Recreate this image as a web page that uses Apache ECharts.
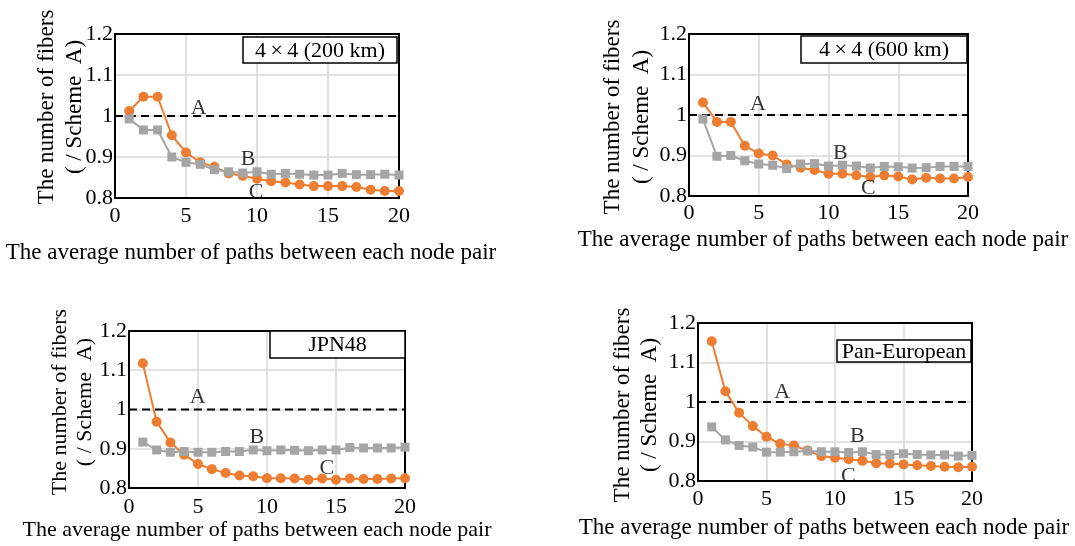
<!DOCTYPE html>
<html>
<head>
<meta charset="utf-8">
<script src="https://cdn.jsdelivr.net/npm/echarts@6/dist/echarts.min.js"></script>
<style>
html,body{margin:0;padding:0;background:#fff;}
#chart{width:1075px;height:546px;}
</style>
</head>
<body>
<div id="chart"></div>
<script>
// ---- data ----
const pathCounts = [1,2,3,4,5,6,7,8,9,10,11,12,13,14,15,16,17,18,19,20];
const xTicks = [0,5,10,15,20];
const yTicks = [0.8,0.9,1.0,1.1,1.2];
const panelTitles = ['4\u2009\u00d7\u20094 (200 km)', '4\u2009\u00d7\u20094 (600 km)', 'JPN48', 'Pan-European'];
const schemeA = [1, 1];
const schemeAx = [0, 20];

const c200 = [1.012,1.047,1.047,0.953,0.911,0.887,0.876,0.860,0.854,0.847,0.841,0.838,0.833,0.829,0.829,0.829,0.827,0.820,0.817,0.817];
const b200 = [0.993,0.966,0.966,0.900,0.887,0.882,0.869,0.864,0.861,0.864,0.858,0.860,0.858,0.856,0.856,0.860,0.857,0.857,0.858,0.856];
const c600 = [1.031,0.983,0.983,0.924,0.905,0.900,0.878,0.870,0.864,0.855,0.855,0.851,0.847,0.851,0.848,0.841,0.845,0.843,0.843,0.847];
const b600 = [0.990,0.898,0.900,0.887,0.879,0.876,0.868,0.879,0.880,0.874,0.876,0.874,0.869,0.873,0.872,0.869,0.870,0.873,0.873,0.873];
const cJPN = [1.118,0.969,0.916,0.885,0.861,0.848,0.838,0.832,0.830,0.825,0.825,0.824,0.821,0.824,0.821,0.824,0.823,0.823,0.824,0.825];
const bJPN = [0.917,0.897,0.891,0.893,0.891,0.891,0.893,0.893,0.897,0.895,0.897,0.896,0.895,0.897,0.897,0.903,0.902,0.902,0.902,0.904];
const cPan = [1.154,1.027,0.973,0.939,0.912,0.894,0.890,0.877,0.863,0.859,0.855,0.851,0.845,0.844,0.842,0.840,0.838,0.836,0.835,0.836];
const bPan = [0.937,0.904,0.890,0.886,0.873,0.873,0.874,0.876,0.874,0.874,0.872,0.874,0.867,0.867,0.869,0.867,0.866,0.866,0.863,0.865];

const seriesC = [c200, c600, cJPN, cPan];
const seriesB = [b200, b600, bJPN, bPan];

// annotation anchors (data units): [x, y] for A, B, C
const labelNames = ['A','B','C'];
const labelA = [[5.9,1.019],[4.95,1.027],[4.98,1.032],[6.15,1.024]];
const labelB = [[9.37,0.894],[10.84,0.906],[9.26,0.930],[11.63,0.913]];
const labelC = [[9.93,0.813],[12.85,0.819],[14.33,0.851],[10.97,0.812]];

const xTitle = 'The average number of paths between each node pair';
const yTitle = 'The number of fibers\n( / Scheme  A)';

// ---- layout ----
const FONT = "'Liberation Serif','Times New Roman',serif";
const grids = [
  {left:115, top:34, width:284, height:164},
  {left:689, top:34, width:279, height:162},
  {left:129, top:331, width:276, height:157},
  {left:698, top:323, width:274, height:158}
];
const tickMarginX = [7, 6, 8, 7];
const titleSize = [23, 23, 22, 23];
const boxes = [
  {x:243, y:37, w:154, h:26},
  {x:801, y:36, w:166, h:27},
  {x:270, y:331, w:135, h:27},
  {x:837, y:340, w:134, h:22}
];
const xTitlePos = [[251,253],[823,240],[257,530],[824,528]];
const yTitlePos = [[61,107,28],[627,117,29],[73,402,25],[636,405,27]];

const ORANGE = '#ED7D31', GRAY = '#A5A5A5';

const option = {
  animation:false,
  backgroundColor:'#fff',
  grid: grids.map(g => ({left:g.left, top:g.top, width:g.width, height:g.height, show:true, borderColor:'#000', borderWidth:2, backgroundColor:'transparent'})),
  xAxis: grids.map((g,i) => ({
    type:'value', gridIndex:i, min:xTicks[0], max:xTicks[xTicks.length-1], interval:5,
    axisLine:{show:true, lineStyle:{color:'#000', width:2}}, axisTick:{show:false},
    axisLabel:{fontFamily:FONT, fontSize:22, color:'#000', margin:tickMarginX[i]},
    splitLine:{show:true, showMinLine:false, showMaxLine:false, lineStyle:{color:'#d9d9d9', width:1.5}}
  })),
  yAxis: grids.map((g,i) => ({
    type:'value', gridIndex:i, min:yTicks[0], max:yTicks[yTicks.length-1], interval:0.1,
    axisLine:{show:true, lineStyle:{color:'#000', width:2}}, axisTick:{show:false},
    axisLabel:{fontFamily:FONT, fontSize:22, color:'#000', margin:2,
      formatter: v => String(+v.toFixed(1))},
    splitLine:{show:true, showMinLine:false, showMaxLine:false, lineStyle:{color:'#d9d9d9', width:1.5}}
  })),
  series: [],
  graphic: []
};

grids.forEach((g,i) => {
  // frame on top/right drawn on top of split lines
  option.graphic.push({
    type:'rect', shape:{x:g.left, y:g.top, width:g.width, height:g.height}, z:2, silent:true,
    style:{fill:null, stroke:'#000', lineWidth:2}
  });
  option.series.push({
    name:'A', type:'line', xAxisIndex:i, yAxisIndex:i,
    data: schemeAx.map((x,k) => [x, schemeA[k]]),
    symbol:'none', lineStyle:{color:'#000', width:2, type:[8,5]}, z:3, silent:true
  });
  option.series.push({
    name:'C', type:'line', xAxisIndex:i, yAxisIndex:i,
    data: pathCounts.map((x,k) => [x, seriesC[i][k]]),
    symbol:'circle', symbolSize:10, showSymbol:true,
    lineStyle:{color:ORANGE, width:2}, itemStyle:{color:ORANGE}, z:4
  });
  option.series.push({
    name:'B', type:'line', xAxisIndex:i, yAxisIndex:i,
    data: pathCounts.map((x,k) => [x, seriesB[i][k]]),
    symbol:'rect', symbolSize:9, showSymbol:true,
    lineStyle:{color:GRAY, width:2}, itemStyle:{color:GRAY}, z:5
  });
  option.series.push({
    name:'labels', type:'scatter', xAxisIndex:i, yAxisIndex:i,
    data: [labelA[i], labelB[i], labelC[i]].map((p,k) => ({value:p, name:labelNames[k]})),
    symbolSize:0, z:6, silent:true,
    label:{show:true, position:'inside', formatter:'{b}', fontFamily:FONT, fontSize:22, color:'#000'}
  });
  const b = boxes[i];
  option.graphic.push({
    type:'rect', shape:{x:b.x, y:b.y, width:b.w, height:b.h}, z:100,
    style:{fill:'#fff', stroke:'#000', lineWidth:1.5}
  });
  option.graphic.push({
    type:'text', x:b.x + b.w/2, y:b.y + b.h/2 + 1, z:101,
    style:{text:panelTitles[i], font:'22px ' + FONT, fill:'#000', textAlign:'center', textVerticalAlign:'middle'}
  });
  option.graphic.push({
    type:'text', x:xTitlePos[i][0], y:xTitlePos[i][1], z:101,
    style:{text:xTitle, font:titleSize[i] + 'px ' + FONT, fill:'#000', textAlign:'center', textVerticalAlign:'middle'}
  });
  option.graphic.push({
    type:'text', x:yTitlePos[i][0], y:yTitlePos[i][1], rotation:Math.PI/2, z:101,
    style:{text:yTitle, font:titleSize[i] + 'px ' + FONT, fill:'#000', textAlign:'center', textVerticalAlign:'middle', lineHeight:yTitlePos[i][2]}
  });
});

const chart = echarts.init(document.getElementById('chart'), null, {renderer:'canvas'});
chart.setOption(option);
</script>
</body>
</html>
